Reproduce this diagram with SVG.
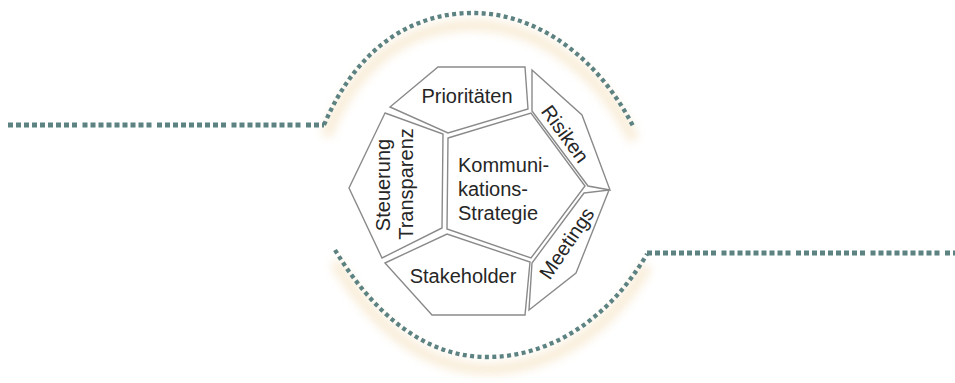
<svg xmlns="http://www.w3.org/2000/svg" width="955" height="383" viewBox="0 0 955 383">
  <defs>
    <filter id="glow" x="-10%" y="-50%" width="120%" height="200%">
      <feGaussianBlur stdDeviation="4.5"/>
    </filter>
  </defs>
  <style>
    .face { fill: #ffffff; stroke: #8a8a8a; stroke-width: 1.4; stroke-linejoin: miter; }
    .lbl { font-family: "Liberation Sans", Arial, sans-serif; font-size: 20px; fill: #262626; }
    .glow { fill: none; stroke: #f4e0bd; stroke-width: 12; opacity: 0.55; filter: url(#glow); }
    .dotsH { fill: none; stroke: #5c8282; stroke-width: 5; stroke-dasharray: 5 3 5 3 5 3 5 3 5 3 5 3 5 3 5 3 5 5.5; }
    .dotsA { fill: none; stroke: #5c8282; stroke-width: 4.3; stroke-dasharray: 4 3.4; }
  </style>
  <rect width="955" height="383" fill="#ffffff"/>

  <g id="connectors">
    <g transform="translate(0,12)">
      <path class="glow" d="M 10 125 L 324 125"/>
      <path class="glow" d="M 326 124 C 360 40, 420 12, 475 13 C 540 14, 600 60, 634 128"/>
      <path class="glow" d="M 335 250 C 370 308, 420 356, 485 357 C 550 358, 610 318, 647 254"/>
      <path class="glow" d="M 650 253 L 955 253"/>
    </g>
    <path class="dotsH" d="M 8 125 L 324 125"/>
    <path class="dotsA" d="M 324 125 C 360 40, 420 12, 475 13 C 540 14, 600 60, 634 128"/>
    <path class="dotsA" d="M 335 250 C 370 308, 420 356, 485 357 C 550 358, 610 318, 647 254"/>
    <path class="dotsH" d="M 647 253 L 955 253"/>
  </g>

  <g id="prioritaeten">
    <polygon class="face" points="438,67 525,67 528,109 448,133 390,107"/>
    <text class="lbl" x="467" y="103" text-anchor="middle">Prioritäten</text>
  </g>

  <g id="risiken">
    <polygon class="face" points="532,70 582,115 610,190 588,186 532,111"/>
    <text class="lbl" text-anchor="middle" transform="translate(559.5,138) rotate(54)">Risiken</text>
  </g>

  <g id="kommunikationsstrategie">
    <polygon class="face" points="448,138 531,113 585,186 531,258 447,229"/>
    <text class="lbl" x="458" y="172">Kommuni-</text>
    <text class="lbl" x="458" y="196">kations-</text>
    <text class="lbl" x="458" y="220">Strategie</text>
  </g>

  <g id="steuerung-transparenz">
    <polygon class="face" points="385,113 443,134 442,228 382,258 349,188"/>
    <text class="lbl" text-anchor="middle" transform="translate(389.5,185) rotate(-90)">Steuerung</text>
    <text class="lbl" text-anchor="middle" transform="translate(413,184) rotate(-90)">Transparenz</text>
  </g>

  <g id="stakeholder">
    <polygon class="face" points="385,263 447,234 530,262 525,315 432,315"/>
    <text class="lbl" x="463" y="283" text-anchor="middle">Stakeholder</text>
  </g>

  <g id="meetings">
    <polygon class="face" points="584,193 609,190 576,273 529,310 532,263"/>
    <text class="lbl" text-anchor="middle" transform="translate(572.5,247) rotate(-56)">Meetings</text>
  </g>
</svg>
